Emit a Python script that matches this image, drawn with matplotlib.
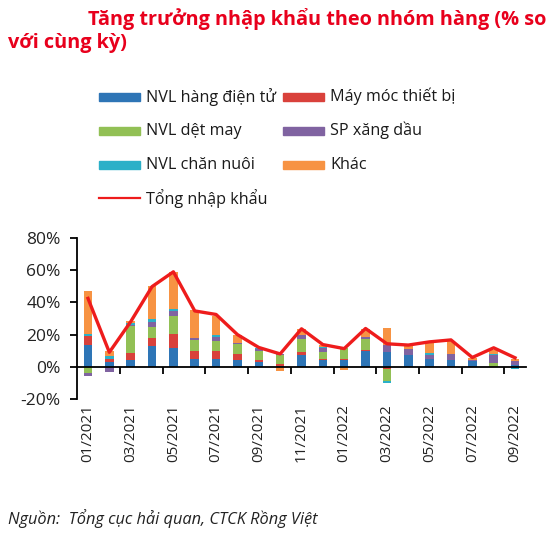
import matplotlib
matplotlib.use('Agg')
import matplotlib.pyplot as plt
import numpy as np
from matplotlib.patches import Rectangle
from matplotlib.lines import Line2D
from matplotlib.ticker import FuncFormatter

months = ['01/2021', '02/2021', '03/2021', '04/2021', '05/2021', '06/2021', '07/2021',
          '08/2021', '09/2021', '10/2021', '11/2021', '12/2021', '01/2022', '02/2022',
          '03/2022', '04/2022', '05/2022', '06/2022', '07/2022', '08/2022', '09/2022']
tick_labels = months[::2]

nvl_dien_tu = [13.4, 3.0, 4.1, 13.0, 11.6, 4.8, 4.8, 4.3, 3.0, 0.5, 7.4, 4.0, 4.3, 9.8, 9.3, 7.4, 4.8, 4.2, 3.5, 0.0, 1.0]
may_moc     = [5.8, 2.0, 4.3, 4.8, 8.9, 4.8, 4.8, 3.5, 1.0, 1.0, 2.0, 1.0, 0.3, 0.5, -1.4, 0.0, 0.0, 0.0, 0.0, 0.0, 0.0]
det_may     = [-4.0, 0.0, 17.0, 7.0, 11.2, 7.2, 6.6, 6.2, 6.0, 6.0, 7.6, 4.5, 6.8, 6.8, -7.6, 0.0, 0.0, 0.0, 0.0, 2.3, 0.0]
xang_dau    = [-1.8, -3.0, 0.8, 3.1, 2.7, 1.0, 2.3, 0.6, 1.2, 0.5, 2.5, 2.3, 0.5, 1.5, 4.3, 3.5, 2.5, 3.8, 0.5, 5.2, 2.5]
chan_nuoi   = [1.0, 1.5, 1.2, 1.6, 1.6, 0.3, 1.2, 0.2, 0.6, 0.0, 0.5, 0.5, 0.0, 0.0, -1.2, 0.0, 1.0, 0.0, 0.0, 0.6, -1.2]
khac        = [26.6, 3.5, 1.0, 20.7, 23.0, 17.0, 12.0, 5.2, 0.0, -2.5, 3.5, 1.5, -2.0, 5.0, 10.3, 2.7, 6.6, 8.0, 1.5, 2.5, 1.6]
tong        = [42.5, 9.0, 28.0, 49.8, 59.0, 34.7, 32.5, 20.0, 12.0, 8.0, 23.6, 13.8, 11.3, 23.8, 14.3, 13.5, 15.5, 16.7, 5.8, 11.8, 5.6]

labels = ['NVL hàng điện tử', 'Máy móc thiết bị', 'NVL dệt may', 'SP xăng dầu',
          'NVL chăn nuôi', 'Khác', 'Tổng nhập khẩu']
colors = ['#2E75B6', '#D9413B', '#92C055', '#8063A1', '#2BB0C8', '#F79343']
line_color = '#EE1C1C'
title_color = '#E8001C'

W, H = 556, 545
FONT = 'Open Sans'
plt.rcParams['font.family'] = [FONT, 'DejaVu Sans']

fig = plt.figure(figsize=(W / 100, H / 100), dpi=100)
ax = fig.add_axes([77.3 / W, 1 - 399 / H, (525.7 - 77.3) / W, 161 / H])

x = np.arange(len(months))
series = [nvl_dien_tu, may_moc, det_may, xang_dau, chan_nuoi, khac]
pos_base = np.zeros(len(x))
neg_base = np.zeros(len(x))
for vals, col in zip(series, colors):
    v = np.array(vals, dtype=float)
    p = np.where(v > 0, v, 0)
    q = np.where(v < 0, v, 0)
    ax.bar(x, p, 0.4, bottom=pos_base, color=col, zorder=2)
    ax.bar(x, q, 0.4, bottom=neg_base, color=col, zorder=2)
    pos_base += p
    neg_base += q

ax.plot(x, tong, color=line_color, lw=2.4, zorder=5, solid_joinstyle='round')

ax.set_xlim(-0.5, len(x) - 0.5)
ax.set_ylim(-20, 80)
ax.set_yticks([-20, 0, 20, 40, 60, 80])
ax.yaxis.set_major_formatter(FuncFormatter(lambda v, _: f'{int(v)}%'))

for s in ['top', 'right']:
    ax.spines[s].set_visible(False)
ax.spines['left'].set_linewidth(1.3)
ax.spines['bottom'].set_position(('data', 0))
ax.spines['bottom'].set_linewidth(1.3)
ax.spines['bottom'].set_zorder(3)

ax.set_xticks(x[::2])
ax.set_xticklabels(tick_labels, rotation=90)
ax.set_xticks(np.arange(1.5, len(x) - 1, 2), minor=True)
ax.tick_params(axis='x', which='major', length=0, pad=27, labelsize=11, labelcolor='#222222')
ax.tick_params(axis='x', which='minor', length=5, width=1.3, direction='out')
ax.tick_params(axis='y', length=5, width=1.3, direction='out', pad=7, labelsize=12.5, labelcolor='#222222')

# Title
fig.text(88 / W, 1 - 25 / H, 'Tăng trưởng nhập khẩu theo nhóm hàng (% so',
         color=title_color, fontsize=14.3, fontweight='bold', va='baseline', ha='left')
fig.text(8 / W, 1 - 48 / H, 'với cùng kỳ)',
         color=title_color, fontsize=14.3, fontweight='bold', va='baseline', ha='left')

# Legend (manual)
def fx(px):
    return px / W

def fy(py):
    return 1 - py / H

rows = [96.7, 130.7, 165.0]
col1_patch, col2_patch = 99, 283
pw, ph = 41, 8
text_off = 47
grid = [(0, 0), (1, 0), (0, 1), (1, 1), (0, 2), (1, 2)]
for i, (c, r) in enumerate(grid):
    px0 = col1_patch if c == 0 else col2_patch
    yc = rows[r]
    fig.patches.append(Rectangle((fx(px0), fy(yc + ph / 2)), pw / W, ph / H,
                                 transform=fig.transFigure, color=colors[i]))
    fig.text(fx(px0 + text_off), fy(yc), labels[i], fontsize=11.6, va='center', ha='left', color='#1a1a1a')
fig.lines.append(Line2D([fx(col1_patch), fx(col1_patch + pw)], [fy(198.3), fy(198.3)],
                        transform=fig.transFigure, color=line_color, lw=1.6))
fig.text(fx(col1_patch + text_off), fy(198.3), labels[6], fontsize=11.6, va='center', ha='left', color='#1a1a1a')

# Footnote
fig.text(8 / W, 1 - 524 / H, 'Nguồn:  Tổng cục hải quan, CTCK Rồng Việt',
         fontsize=11.8, style='italic', color='#222222', va='baseline', ha='left')

fig.savefig('out.png', dpi=100)
